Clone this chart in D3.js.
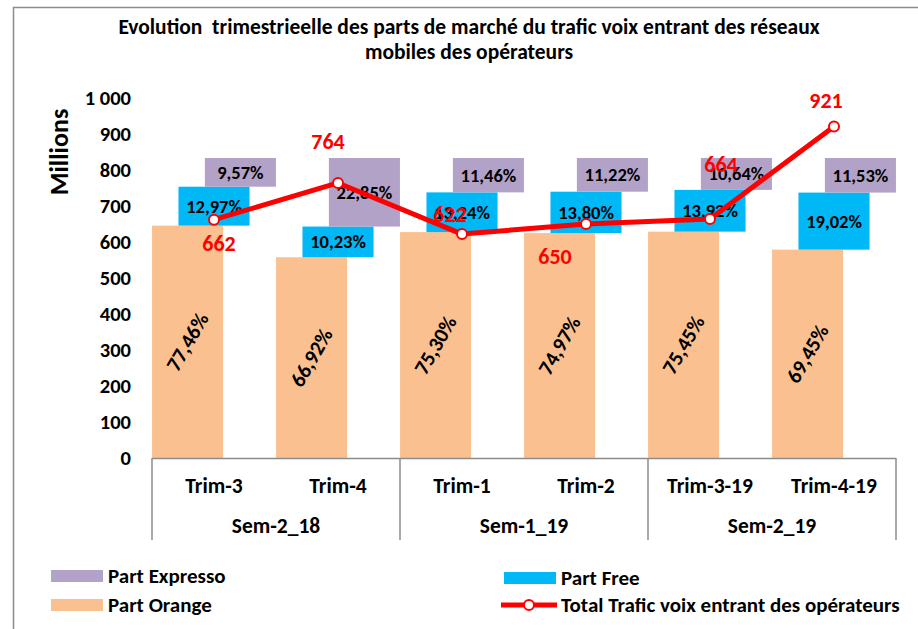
<!DOCTYPE html>
<html>
<head>
<meta charset="utf-8">
<script src="https://cdn.jsdelivr.net/npm/d3@7"></script>
<style>
  body { margin: 0; background: #fff; }
  svg text { font-family: Carlito, Lato, "Open Sans", sans-serif; font-weight: bold; }
</style>
</head>
<body>
<div id="chart"></div>
<script>
const quarters = ["Trim-3", "Trim-4", "Trim-1", "Trim-2", "Trim-3-19", "Trim-4-19"];
const semesters = ["Sem-2_18", "Sem-1_19", "Sem-2_19"];
const partOrange = [77.46, 66.92, 75.30, 74.97, 75.45, 69.45];
const partFree = [12.97, 10.23, 13.24, 13.80, 13.92, 19.02];
const partExpresso = [9.57, 22.85, 11.46, 11.22, 10.64, 11.53];
const totalTrafic = [662, 764, 622, 650, 664, 921];
const yTicks = [0, 100, 200, 300, 400, 500, 600, 700, 800, 900, 1000];

// label nudges for the red totals (dx, dy from the point)
const totalLabelOffsets = [[5, 24], [-10, -41], [-12, -20], [-31, 32], [11, -54], [-8, -26]];

const W = 918, H = 629;
const plot = { left: 152, right: 896, top: 98, bottom: 458 };

const svg = d3.select("#chart").append("svg")
    .attr("width", W)
    .attr("height", H);

// outer frame
svg.append("rect")
    .attr("x", 13.5).attr("y", 7.5)
    .attr("width", W + 20).attr("height", H + 20)
    .attr("fill", "none")
    .attr("stroke", "#8c8c8c")
    .attr("stroke-width", 1.5);

// title
svg.append("text")
    .attr("x", 469).attr("y", 34)
    .attr("text-anchor", "middle")
    .attr("font-size", 21.5)
    .style("white-space", "pre")
    .text("Evolution  trimestrieelle des parts de marché du trafic voix entrant des réseaux");
svg.append("text")
    .attr("x", 469).attr("y", 59)
    .attr("text-anchor", "middle")
    .attr("font-size", 21.5)
    .text("mobiles des opérateurs");

const x = d3.scaleBand()
    .domain(quarters)
    .range([plot.left, plot.right])
    .padding(0);

const y = d3.scaleLinear().domain([0, 1000]).range([plot.bottom, plot.top]);
// bars sit on a hidden percent axis, 0..120 %
const yPct = d3.scaleLinear().domain([0, 120]).range([plot.bottom, plot.top]);

// y axis (labels only)
const yAxis = svg.append("g")
    .attr("transform", `translate(${plot.left},0)`)
    .call(d3.axisLeft(y).tickValues(yTicks).tickSize(0).tickPadding(21)
        .tickFormat(d => d3.format(",")(d).replace(",", " ")));
yAxis.select(".domain").remove();
yAxis.selectAll("text")
    .attr("font-size", 20.5)
    .attr("font-family", null)
    .attr("fill", "#000");

svg.append("text")
    .attr("transform", "translate(68,152) rotate(-90)")
    .attr("text-anchor", "middle")
    .attr("font-size", 26)
    .text("Millions");

// stacked bars, each series shifted sideways
const bw = x.bandwidth() * 0.573;
const shift = x.bandwidth() * 0.213;
const series = [
    { name: "Part Orange", values: partOrange, color: "#FAC090", off: -shift },
    { name: "Part Free", values: partFree, color: "#00B8F5", off: 0 },
    { name: "Part Expresso", values: partExpresso, color: "#B3A2C7", off: shift }
];

const bars = quarters.map((q, i) => {
    let base = 0;
    return series.map(s => {
        const d = { q, s, v: s.values[i], y0: base, y1: base + s.values[i] };
        base += s.values[i];
        return d;
    });
}).flat();

const cx = q => x(q) + x.bandwidth() / 2;

svg.append("g").selectAll("rect")
    .data(bars)
    .join("rect")
    .attr("x", d => cx(d.q) + d.s.off - bw / 2)
    .attr("y", d => yPct(d.y1))
    .attr("width", bw)
    .attr("height", d => yPct(d.y0) - yPct(d.y1))
    .attr("fill", d => d.s.color);

const fmtPct = v => v.toFixed(2).replace(".", ",") + "%";

svg.append("g").selectAll("text")
    .data(bars)
    .join("text")
    .attr("font-size", d => d.s.name === "Part Orange" ? 21 : 18.5)
    .attr("text-anchor", "middle")
    .attr("dominant-baseline", "central")
    .attr("transform", d => {
        const tx = cx(d.q) + d.s.off;
        const ty = (yPct(d.y0) + yPct(d.y1)) / 2;
        return d.s.name === "Part Orange"
            ? `translate(${tx},${ty}) rotate(-60)`
            : `translate(${tx},${ty})`;
    })
    .text(d => fmtPct(d.v));

// category axis box
const axisColor = "#8c8c8c";
svg.append("line")
    .attr("x1", plot.left).attr("x2", plot.right)
    .attr("y1", plot.bottom + 0.5).attr("y2", plot.bottom + 0.5)
    .attr("stroke", axisColor).attr("stroke-width", 1.5);

const sepX = [0, 2, 4, 6].map(i => i < 6 ? x(quarters[i]) : plot.right);
svg.append("g").selectAll("line")
    .data(sepX)
    .join("line")
    .attr("x1", d => d).attr("x2", d => d)
    .attr("y1", plot.bottom).attr("y2", 540)
    .attr("stroke", axisColor).attr("stroke-width", 1.5);

svg.append("g").selectAll("text")
    .data(quarters)
    .join("text")
    .attr("x", d => cx(d))
    .attr("y", 493)
    .attr("text-anchor", "middle")
    .attr("font-size", 21.5)
    .text(d => d);

svg.append("g").selectAll("text")
    .data(semesters)
    .join("text")
    .attr("x", (d, i) => (x(quarters[i * 2]) + x(quarters[i * 2 + 1]) + x.bandwidth()) / 2)
    .attr("y", 533)
    .attr("text-anchor", "middle")
    .attr("font-size", 21.5)
    .text(d => d);

// total line
const line = d3.line()
    .x((d, i) => cx(quarters[i]))
    .y(d => y(d));

svg.append("path")
    .datum(totalTrafic)
    .attr("fill", "none")
    .attr("stroke", "#FF0000")
    .attr("stroke-width", 5)
    .attr("stroke-linejoin", "round")
    .attr("d", line);

svg.append("g").selectAll("circle")
    .data(totalTrafic)
    .join("circle")
    .attr("cx", (d, i) => cx(quarters[i]))
    .attr("cy", d => y(d))
    .attr("r", 5)
    .attr("fill", "#fff")
    .attr("stroke", "#FF0000")
    .attr("stroke-width", 2);

svg.append("g").selectAll("text")
    .data(totalTrafic)
    .join("text")
    .attr("x", (d, i) => cx(quarters[i]) + totalLabelOffsets[i][0])
    .attr("y", (d, i) => y(d) + totalLabelOffsets[i][1])
    .attr("text-anchor", "middle")
    .attr("dominant-baseline", "central")
    .attr("font-size", 22)
    .attr("fill", "#FF0000")
    .text(d => d);

// legend
const legend = svg.append("g");
const legendItems = [
    { label: "Part Expresso", color: "#B3A2C7", x: 51, y: 576 },
    { label: "Part Orange", color: "#FAC090", x: 51, y: 605 },
    { label: "Part Free", color: "#00B8F5", x: 504, y: 578 }
];
legendItems.forEach(it => {
    legend.append("rect")
        .attr("x", it.x).attr("y", it.y - 6)
        .attr("width", 52).attr("height", 12)
        .attr("fill", it.color);
    legend.append("text")
        .attr("x", it.x + 57).attr("y", it.y)
        .attr("dominant-baseline", "central")
        .attr("font-size", 21)
        .text(it.label);
});
legend.append("line")
    .attr("x1", 501).attr("x2", 557)
    .attr("y1", 605).attr("y2", 605)
    .attr("stroke", "#FF0000").attr("stroke-width", 5);
legend.append("circle")
    .attr("cx", 529).attr("cy", 605).attr("r", 5)
    .attr("fill", "#fff").attr("stroke", "#FF0000").attr("stroke-width", 2);
legend.append("text")
    .attr("x", 561).attr("y", 605)
    .attr("dominant-baseline", "central")
    .attr("font-size", 21)
    .text("Total Trafic voix entrant des opérateurs");
</script>
</body>
</html>
